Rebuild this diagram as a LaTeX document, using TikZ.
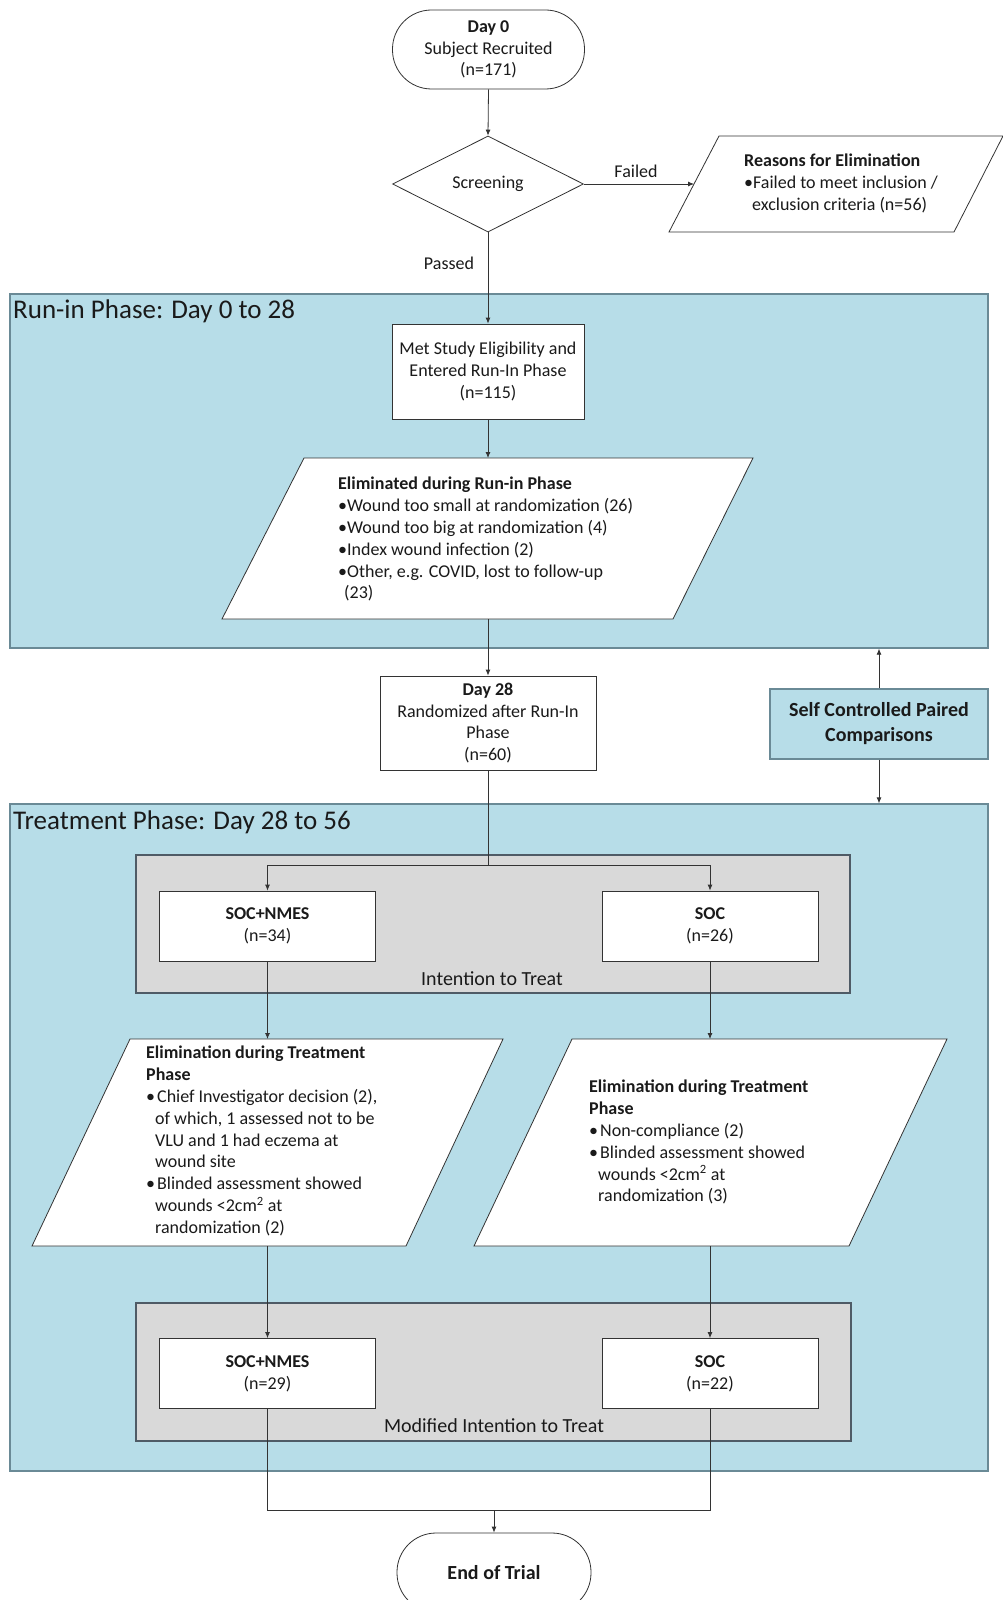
\documentclass[tikz,border=0pt]{standalone}
\usepackage{fontspec}
\setmainfont{Carlito}
\usetikzlibrary{shapes.geometric,arrows.meta}
\definecolor{phaseblue}{HTML}{B7DDE8}
\definecolor{phaseborder}{HTML}{6A8A96}
\definecolor{graybox}{HTML}{D9D9D9}
\definecolor{grayborder}{HTML}{4F5B66}
\definecolor{ink}{HTML}{1A1A1A}
\definecolor{lineink}{HTML}{333333}
\begin{document}
\begin{tikzpicture}[x=1pt,y=-1pt,
  txt/.style={font=\fontsize{18}{21.8}\selectfont, text=ink, inner sep=0pt},
  bigtxt/.style={font=\fontsize{20}{25}\selectfont, text=ink, inner sep=0pt},
  titletxt/.style={font=\fontsize{27}{32}\selectfont, text=ink, inner sep=0pt, anchor=west},
  whitebox/.style={txt, draw=lineink, fill=white, line width=0.8pt, rectangle, align=center},
  terminal/.style={whitebox, rounded corners=39pt, minimum width=192pt, minimum height=79pt},
  phasebox/.style={draw=phaseborder, fill=phaseblue, line width=1.3pt, rectangle, inner sep=0pt, minimum width=978pt},
  groupbox/.style={draw=grayborder, fill=graybox, line width=1.3pt, rectangle, inner sep=0pt},
  armbox/.style={whitebox, minimum width=216pt, minimum height=70pt},
  para/.style={draw=lineink, fill=white, line width=0.8pt, line join=miter},
  listtxt/.style={txt, align=left, anchor=north west},
  conn/.style={draw=lineink, line width=0.8pt},
  arr/.style={conn, -{Latex[length=6pt,width=5pt]}}]

\useasboundingbox (0,0) rectangle (1003,1600);
\clip (0,0) rectangle (1003,1600);
\fill[white] (0,0) rectangle (1003,1600);

% phases
\node[phasebox, minimum height=354pt] (runin) at (499,471) {};
\node[phasebox, minimum height=667pt] (treat) at (499,1137.5) {};
\node[titletxt] (runinlabel) at (13,311) {Run-in Phase: Day 0 to 28};
\node[titletxt] (treatlabel) at (13,822) {Treatment Phase: Day 28 to 56};

% groups
\node[groupbox, minimum width=714pt, minimum height=138pt] (ittgroup) at (493,924) {};
\node[groupbox, minimum width=715pt, minimum height=138pt] (mittgroup) at (493.5,1372) {};
\node[bigtxt] (ittlabel) at (492,979) {Intention to Treat};
\node[bigtxt] (mittlabel) at (494,1426) {Modified Intention to Treat};

% start
\node[terminal] (start) at (488.5,49.5) {\textbf{Day 0}\\Subject Recruited\\(n=171)};
\node[txt, draw=lineink, fill=white, line width=0.8pt, diamond, minimum width=191pt, minimum height=96pt] (screen) at (488,184) {Screening};

% reasons parallelogram
\path[para] (719,136) -- (1003,136) -- (954,232) -- (669,232) -- cycle;
\coordinate (reasonsW) at (694,184);
\node[listtxt] (reasonstxt) at (744,154) {\textbf{Reasons for Elimination}\\•Failed to meet inclusion /\\\hspace*{8pt}exclusion criteria (n=56)};
\node[txt] (failedlbl) at (636,171) {Failed};
\node[txt] (passedlbl) at (449,263) {Passed};

% met study
\node[whitebox, minimum width=192pt, minimum height=95pt] (met) at (488,371.5) {Met Study Eligibility and\\Entered Run-In Phase\\(n=115)};

% run-in elimination
\path[para] (304,458) -- (753,458) -- (673,619) -- (222,619) -- cycle;
\coordinate (elimRtop) at (488,458);
\coordinate (elimRbot) at (488,619);
\node[listtxt] (elimRtxt) at (338,477) {\textbf{Eliminated during Run-in Phase}\\
•Wound too small at randomization (26)\\
•Wound too big at randomization (4)\\
•Index wound infection (2)\\
•Other, e.g. COVID, lost to follow-up\\
\hspace*{6pt}(23)};

% day 28
\node[whitebox, minimum width=216pt, minimum height=94pt] (day28) at (488,723) {\textbf{Day 28}\\Randomized after Run-In\\Phase\\(n=60)};

% self controlled
\node[bigtxt, draw=phaseborder, fill=phaseblue, line width=1.3pt, align=center, minimum width=218pt, minimum height=70pt] (sc) at (879,724) {\textbf{Self Controlled Paired}\\\textbf{Comparisons}};

% ITT arms
\node[armbox] (socn) at (267.5,926) {\textbf{SOC+NMES}\\(n=34)};
\node[armbox] (soc) at (710,926) {\textbf{SOC}\\(n=26)};

% treatment eliminations
\path[para] (130,1039) -- (503,1039) -- (406,1246) -- (32,1246) -- cycle;
\coordinate (elimLtop) at (267.5,1039);
\coordinate (elimLbot) at (267.5,1246);
\node[listtxt] (elimLtxt) at (146,1046) {\textbf{Elimination during Treatment}\\
\textbf{Phase}\\
•\hspace{2pt}Chief Investigator decision (2),\\
\hspace*{9pt}of which, 1 assessed not to be\\
\hspace*{9pt}VLU and 1 had eczema at\\
\hspace*{9pt}wound site\\
•\hspace{2pt}Blinded assessment showed\\
\hspace*{9pt}wounds <2cm\textsuperscript{2} at\\
\hspace*{9pt}randomization (2)};

\path[para] (572,1039) -- (947,1039) -- (849,1246) -- (474,1246) -- cycle;
\coordinate (elimStop) at (710,1039);
\coordinate (elimSbot) at (710,1246);
\node[listtxt] (elimStxt) at (589,1080) {\textbf{Elimination during Treatment}\\
\textbf{Phase}\\
•\hspace{2pt}Non-compliance (2)\\
•\hspace{2pt}Blinded assessment showed\\
\hspace*{9pt}wounds <2cm\textsuperscript{2} at\\
\hspace*{9pt}randomization (3)};

% mITT arms
\node[armbox] (socn2) at (267.5,1373.5) {\textbf{SOC+NMES}\\(n=29)};
\node[armbox] (soc2) at (710,1373.5) {\textbf{SOC}\\(n=22)};

% end
\node[terminal, minimum width=194pt] (endtrial) at (494,1572.5) {\fontsize{20}{25}\selectfont\textbf{End of Trial}};

% connectors
\draw[arr] (start.south) -- (screen.north);
\draw[arr] (screen.east) -- (reasonsW);
\draw[arr] (screen.south) -- (met.north);
\draw[arr] (met.south) -- (elimRtop);
\draw[arr] (elimRbot) -- (day28.north);
\coordinate (split) at (488,865);
\draw[conn] (day28.south) -- (split);
\draw[arr] (split) -| (socn.north);
\draw[arr] (split) -| (soc.north);
\draw[arr] (socn.south) -- (elimLtop);
\draw[arr] (soc.south) -- (elimStop);
\draw[arr] (elimLbot) -- (socn2.north);
\draw[arr] (elimSbot) -- (soc2.north);
\coordinate (merge) at (494,1510);
\draw[conn] (socn2.south) -- (socn2.south |- merge) -- (soc2.south |- merge) -- (soc2.south);
\draw[arr] (merge) -- (endtrial.north);
\draw[arr] (sc.north) -- (sc.north |- runin.south);
\draw[arr] (sc.south) -- (sc.south |- treat.north);
\end{tikzpicture}
\end{document}
